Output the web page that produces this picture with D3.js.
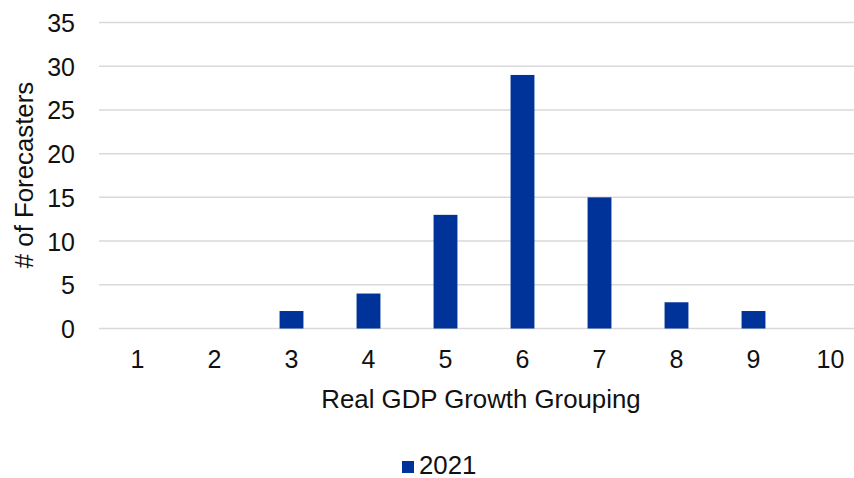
<!DOCTYPE html>
<html>
<head>
<meta charset="utf-8">
<script src="https://cdn.jsdelivr.net/npm/d3@7"></script>
<style>
  html, body { margin: 0; padding: 0; background: #fff; }
  svg { display: block; font-family: "Liberation Sans", Arial, sans-serif; }
</style>
</head>
<body>
<svg id="chart" width="854" height="478"></svg>
<script>
// Distribution of forecasters by real GDP growth grouping
const categories = ["1", "2", "3", "4", "5", "6", "7", "8", "9", "10"];
const values2021 = [0, 0, 2, 4, 13, 29, 15, 3, 2, 0];
const yTicks = [0, 5, 10, 15, 20, 25, 30, 35];
const seriesName = "2021";

const svg = d3.select("#chart");
const margin = { left: 99, right: -15, top: 22.5, bottom: 149.5 };
const W = 854, H = 478;
const FS = 25;      // tick labels
const FT = 25.8;    // titles and legend

const x = d3.scaleBand()
  .domain(categories)
  .range([margin.left, W - margin.right])
  .paddingInner(0.69)
  .paddingOuter(0.345);

const y = d3.scaleLinear()
  .domain([0, 35])
  .range([H - margin.bottom, margin.top]);

// Horizontal gridlines
svg.append("g")
  .selectAll("line")
  .data(yTicks)
  .join("line")
  .attr("x1", margin.left)
  .attr("x2", W - margin.right)
  .attr("y1", d => y(d))
  .attr("y2", d => y(d))
  .attr("stroke", "#d9d9d9")
  .attr("stroke-width", 1.5);

// Y axis labels
const yAxis = d3.axisLeft(y).tickValues(yTicks).tickSize(0).tickPadding(0);
const gy = svg.append("g")
  .attr("transform", `translate(${margin.left - 24},0)`)
  .call(yAxis);
gy.select(".domain").remove();
gy.selectAll("text")
  .attr("font-size", FS)
  .attr("fill", "#111")
  .attr("font-family", "Liberation Sans, Arial, sans-serif")
  .attr("dy", "0.36em");

// Bars
svg.append("g")
  .selectAll("rect")
  .data(categories.map((c, i) => ({ c, v: values2021[i] })))
  .join("rect")
  .attr("x", d => x(d.c))
  .attr("width", x.bandwidth())
  .attr("y", d => y(d.v))
  .attr("height", d => y(0) - y(d.v))
  .attr("fill", "#003399");

// X axis labels
const xAxis = d3.axisBottom(x).tickSize(0).tickPadding(0);
const gx = svg.append("g")
  .attr("transform", `translate(0,${y(0) + 22})`)
  .call(xAxis);
gx.select(".domain").remove();
gx.selectAll("text")
  .attr("font-size", FS)
  .attr("fill", "#111")
  .attr("font-family", "Liberation Sans, Arial, sans-serif");

// Axis titles
svg.append("text")
  .attr("x", 481)
  .attr("y", 408)
  .attr("text-anchor", "middle")
  .attr("font-size", FT)
  .attr("fill", "#111")
  .text("Real GDP Growth Grouping");

svg.append("text")
  .attr("transform", `translate(33,175) rotate(-90)`)
  .attr("text-anchor", "middle")
  .attr("font-size", FT)
  .attr("fill", "#111")
  .text("# of Forecasters");

// Legend
const legend = svg.append("g").attr("transform", "translate(402,461)");
legend.append("rect")
  .attr("width", 12).attr("height", 12)
  .attr("fill", "#003399");
legend.append("text")
  .attr("x", 17)
  .attr("y", 13)
  .attr("font-size", FT)
  .attr("fill", "#111")
  .text(seriesName);
</script>
</body>
</html>
